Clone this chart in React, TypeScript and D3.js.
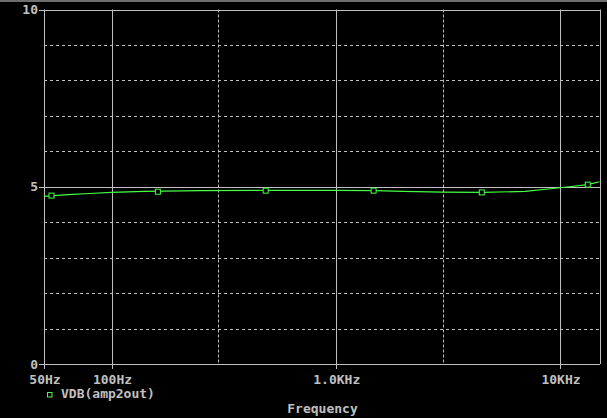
import React from "react";
import * as d3 from "d3";

const freqs = [50, 64, 80, 100, 140, 250, 500, 1000, 1500, 2000, 3000, 4500, 7000, 9300, 11000, 13300, 15000];
const dbValues = [4.73, 4.78, 4.81, 4.84, 4.87, 4.89, 4.9, 4.9, 4.89, 4.87, 4.85, 4.84, 4.87, 4.95, 5.0, 5.06, 5.14];
const markerFreqs = [54, 161, 487, 1475, 4480, 13300];
const markerDb = [4.75, 4.86, 4.89, 4.89, 4.84, 5.06];
const xTickValues = [50, 100, 1000, 10000];
const xTickLabels = ["50Hz", "100Hz", "1.0KHz", "10KHz"];
const xDashed = [300, 3000];
const yTickValues = [0, 5, 10];
const yDashed = [1, 2, 3, 4, 6, 7, 8, 9];
const seriesName = "VDB(amp2out)";
const xTitle = "Frequency";

const W = 607;
const H = 418;
const L = 44;
const R = 600;
const T = 9.5;
const B = 364;
const GRID = "#c0c0c0";
const GREEN = "#44ff44";
const FONT = "'DejaVu Sans Mono', monospace";

export default function App() {
  const x = d3.scaleLog().domain([50, 15080]).range([L, R]);
  const y = d3.scaleLinear().domain([0, 10]).range([B, T]);
  const line = d3
    .line<number>()
    .x((_, i) => x(freqs[i]))
    .y((d) => y(d));
  const pathD = line(dbValues) || "";

  return (
    <svg
      width={W}
      height={H}
      style={{ position: "absolute", left: 0, top: 0, background: "#000" }}
    >
      <rect x={0} y={0} width={W} height={H} fill="#000" />
      <rect x={0} y={0} width={W} height={2} fill="#6e6e6e" />
      {/* dashed horizontal grid */}
      {yDashed.map((v) => (
        <line key={"hy" + v} x1={L} x2={R} y1={Math.round(y(v)) + 0.5} y2={Math.round(y(v)) + 0.5}
          stroke={GRID} strokeWidth={1} strokeDasharray="3,3" />
      ))}
      {/* dashed vertical grid */}
      {xDashed.map((v) => (
        <line key={"vx" + v} x1={Math.round(x(v)) + 0.5} x2={Math.round(x(v)) + 0.5} y1={T} y2={B}
          stroke={GRID} strokeWidth={1} strokeDasharray="3,2" />
      ))}
      {/* solid horizontal lines with ticks */}
      {yTickValues.map((v) => (
        <line key={"sy" + v} x1={39} x2={R} y1={Math.round(y(v)) + 0.5} y2={Math.round(y(v)) + 0.5}
          stroke={GRID} strokeWidth={1} />
      ))}
      {/* solid vertical lines with ticks */}
      {xTickValues.map((v) => (
        <line key={"sx" + v} x1={Math.round(x(v)) + 0.5} x2={Math.round(x(v)) + 0.5} y1={T} y2={B + 5}
          stroke={GRID} strokeWidth={1} />
      ))}
      <line x1={R + 0.5} x2={R + 0.5} y1={T} y2={B} stroke={GRID} strokeWidth={1} />
      {/* y labels */}
      {yTickValues.map((v) => (
        <text key={"ly" + v} x={38} y={y(v) + 4.5} textAnchor="end" fill={GRID}
          fontFamily={FONT} fontSize={13} fontWeight="bold">{String(v)}</text>
      ))}
      {/* x labels */}
      {xTickValues.map((v, i) => (
        <text key={"lx" + v} x={x(v) + 1} y={384} textAnchor="middle" fill={GRID}
          fontFamily={FONT} fontSize={13} fontWeight="bold">{xTickLabels[i]}</text>
      ))}
      {/* series */}
      <path d={pathD} fill="none" stroke={GREEN} strokeWidth={1.2} />
      {markerFreqs.map((f, i) => (
        <rect key={"m" + i} x={x(f) - 2.5} y={y(markerDb[i]) - 2.5} width={5} height={5}
          fill="#000" stroke={GREEN} strokeWidth={1} />
      ))}
      {/* legend */}
      <rect x={47.5} y={392.5} width={4.5} height={4.5} fill="none" stroke={GREEN} strokeWidth={1} />
      <text x={61} y={398} fill={GRID} fontFamily={FONT} fontSize={13} fontWeight="bold">{seriesName}</text>
      <text x={322.5} y={413} textAnchor="middle" fill={GRID} fontFamily={FONT} fontSize={13} fontWeight="bold">{xTitle}</text>
    </svg>
  );
}
